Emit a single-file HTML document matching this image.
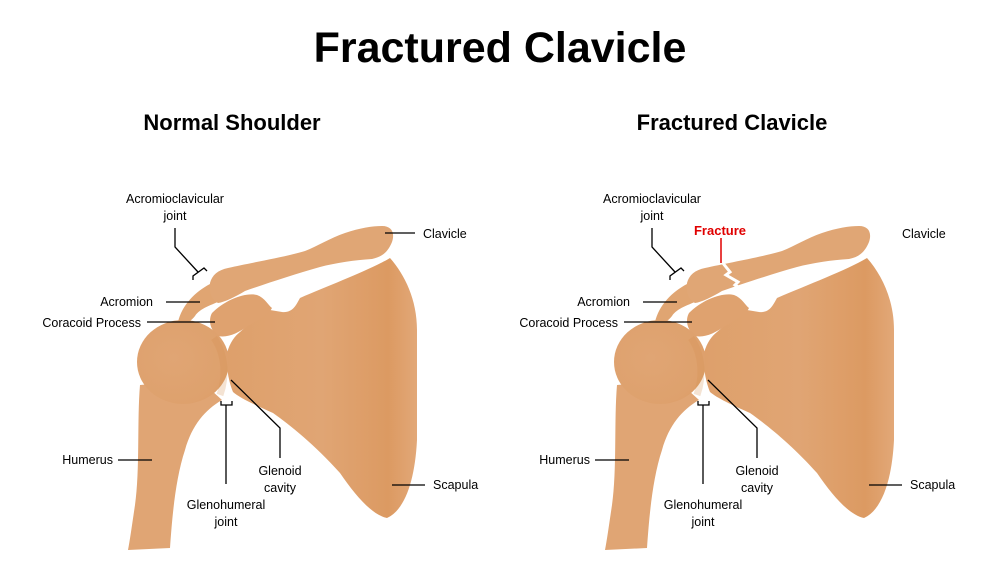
<!DOCTYPE html>
<html><head><meta charset="utf-8"><style>
html,body{margin:0;padding:0;background:#fff;}
svg{display:block;font-family:"Liberation Sans",Arial,sans-serif;}
</style></head><body>
<svg width="1000" height="579" viewBox="0 0 1000 579" xmlns="http://www.w3.org/2000/svg">
<defs>
<linearGradient id="sc" x1="0" x2="1" y1="0" y2="0">
<stop offset="0" stop-color="#dea06b"/><stop offset="0.5" stop-color="#e0a574"/><stop offset="0.85" stop-color="#dc9a62"/><stop offset="1" stop-color="#e2a878"/></linearGradient>
<radialGradient id="hh" cx="0.4" cy="0.45" r="0.7"><stop offset="0" stop-color="#e0a574"/><stop offset="0.8" stop-color="#dea16d"/><stop offset="1" stop-color="#db9c65"/></radialGradient>
<g id="sh">
 <!-- scapula body -->
 <path d="M300,298 C330,285 370,270 390,258 C405,275 417,300 417,330 L417,440 C415,480 405,510 387,518 C372,515 355,495 340,473 C315,445 290,425 273,413 C255,405 240,398 233,392 C228,380 226,365 227,353 C230,342 235,336 240,332 C248,325 260,315 270,310 L282,312 C293,313 296,305 300,298 Z" fill="url(#sc)"/>
 <!-- coracoid -->
 <path d="M212,313 C225,300 245,292 257,295 C265,298 268,305 272,308 C268,316 258,320 248,326 C238,333 228,338 218,336 C210,330 208,320 212,313 Z" fill="#dfa26f"/>
 <!-- acromion hook -->
 <path d="M178,322 C182,305 195,292 210,284 L222,300 C212,305 200,308 195,316 C190,322 185,326 178,322 Z" fill="#e0a572"/>
 <!-- clavicle -->
 <path d="M210,283 C212,275 218,270 228,268 C250,263 285,257 305,251 C318,246 330,238 345,233 C360,228 372,226 382,226 C392,226 395,233 392,242 C388,252 382,257 372,259 C355,260 335,263 320,267 C295,274 265,284 245,291 C235,297 225,302 218,303 C211,300 209,292 210,283 Z" fill="#e0a675"/>
 <!-- humerus -->
 <path d="M140,385 C137,420 140,470 135,505 C132,525 130,540 128,550 L170,548 C172,520 175,480 185,450 C192,425 205,410 222,400 L200,380 Z" fill="#e0a574"/>
 <ellipse cx="183" cy="362" rx="46" ry="42" fill="url(#hh)"/>
 <path d="M214,338 C226,355 226,378 220,395" stroke="#d4904f" stroke-opacity="0.25" stroke-width="7" fill="none"/>
</g>
</defs>

<text x="500" y="62" text-anchor="middle" font-size="43" font-weight="bold" fill="#000">Fractured Clavicle</text>
<text x="232" y="130" text-anchor="middle" font-size="22" font-weight="bold" fill="#000">Normal Shoulder</text>
<text x="732" y="130" text-anchor="middle" font-size="22" font-weight="bold" fill="#000">Fractured Clavicle</text>

<use href="#sh"/>
<use href="#sh" transform="translate(477,0)"/>
<!-- fracture gap -->
<polyline points="722,262 730,272 726,275 738,282 735,285 745,291" stroke="#fff" stroke-width="3" fill="none"/>
<line x1="721" y1="238" x2="721" y2="263" stroke="#e00000" stroke-width="1.5"/>
<text x="720" y="235" text-anchor="middle" font-size="13" font-weight="bold" fill="#e00000">Fracture</text>

<g id="lb" font-size="12.5" fill="#000" stroke-width="1.3">
 <text x="175" y="203" text-anchor="middle">Acromioclavicular</text>
 <text x="175" y="220" text-anchor="middle">joint</text>
 <polyline points="175,228 175,247 198,272" stroke="#000" fill="none"/>
 <polyline points="193,280 193,276 204,268 207,271" stroke="#000" fill="none"/>
 <text x="153" y="306" text-anchor="end">Acromion</text>
 <line x1="166" y1="302" x2="200" y2="302" stroke="#000"/>
 <text x="141" y="327" text-anchor="end">Coracoid Process</text>
 <line x1="147" y1="322" x2="215" y2="322" stroke="#000"/>
 <text x="113" y="464" text-anchor="end">Humerus</text>
 <line x1="118" y1="460" x2="152" y2="460" stroke="#000"/>
 <polyline points="221,401 221,405 232,405 232,401" stroke="#000" fill="none"/>
 <line x1="226" y1="405" x2="226" y2="484" stroke="#000"/>
 <text x="226" y="509" text-anchor="middle">Glenohumeral</text>
 <text x="226" y="526" text-anchor="middle">joint</text>
 <polyline points="231,380 280,428 280,458" stroke="#000" fill="none"/>
 <text x="280" y="475" text-anchor="middle">Glenoid</text>
 <text x="280" y="492" text-anchor="middle">cavity</text>
 <line x1="392" y1="485" x2="425" y2="485" stroke="#000"/>
 <text x="433" y="489">Scapula</text>
</g>
<use href="#lb" transform="translate(477,0)"/>
<line x1="385" y1="233" x2="415" y2="233" stroke="#000" stroke-width="1.3"/>
<text x="423" y="238" font-size="12.5">Clavicle</text>
<text x="902" y="238" font-size="12.5">Clavicle</text>
</svg>
</body></html>
